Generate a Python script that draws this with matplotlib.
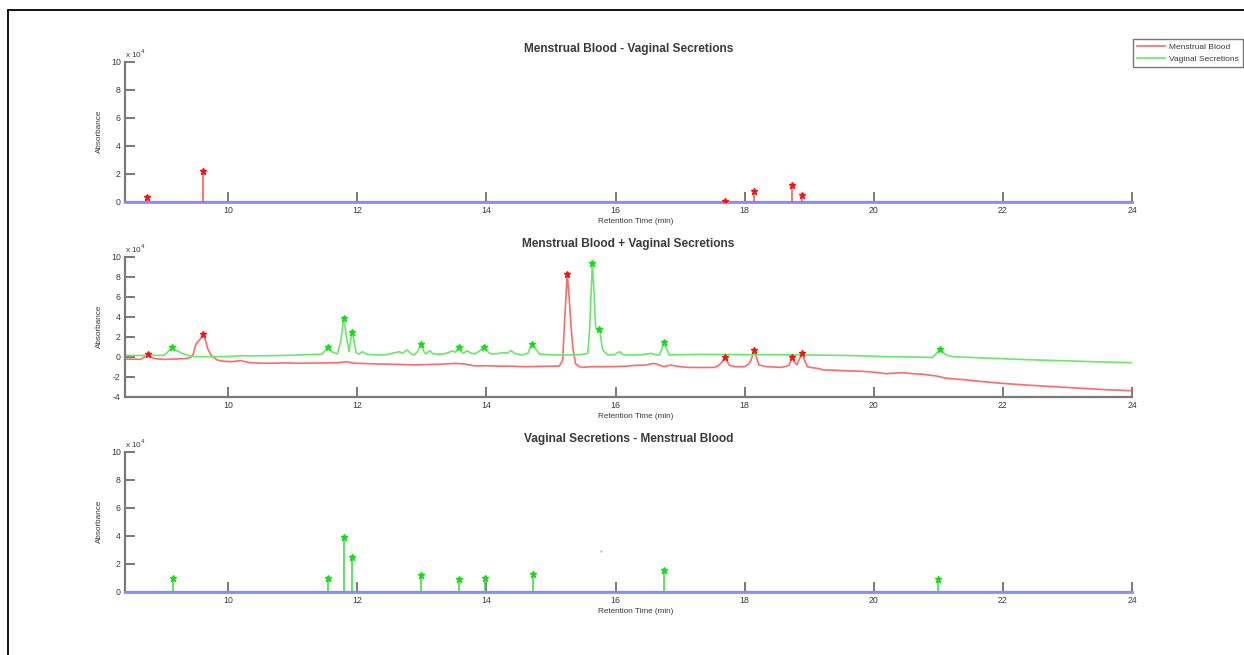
import matplotlib
matplotlib.use("Agg")
import matplotlib.pyplot as plt
from matplotlib.patches import Rectangle

plt.rcParams['font.family'] = ['Liberation Sans', 'DejaVu Sans']
plt.rcParams['axes.unicode_minus'] = False

# ---------------- data (absorbance in units of 1e4) ----------------
mb_time = [8.40, 8.55, 8.64, 8.70, 8.75, 8.80, 8.84, 8.92, 9.00, 9.10, 9.20, 9.30, 9.36, 9.42,
           9.46, 9.49, 9.52, 9.56, 9.61, 9.65, 9.68, 9.72, 9.75, 9.79, 9.83, 9.92, 10.04, 10.12,
           10.19, 10.26, 10.35, 10.50, 10.70, 10.90, 11.10, 11.30, 11.50, 11.70, 11.84, 11.95,
           12.10, 12.28, 12.50, 12.70, 12.90, 13.10, 13.30, 13.52, 13.65, 13.83, 14.00, 14.20,
           14.40, 14.61, 14.80, 15.00, 15.13, 15.18, 15.21, 15.25, 15.28, 15.31, 15.34, 15.38,
           15.44, 15.49, 15.60, 15.80, 16.00, 16.15, 16.24, 16.35, 16.45, 16.55, 16.60, 16.68,
           16.75, 16.86, 16.95, 17.12, 17.35, 17.53, 17.60, 17.64, 17.70, 17.73, 17.77, 17.85,
           17.99, 18.05, 18.09, 18.15, 18.18, 18.22, 18.35, 18.56, 18.65, 18.69, 18.73, 18.77,
           18.81, 18.85, 18.89, 18.93, 18.97, 19.05, 19.13, 19.23, 19.40, 19.60, 19.80, 20.00,
           20.19, 20.30, 20.45, 20.60, 20.75, 20.97, 21.12, 21.40, 21.70, 22.00, 22.40, 22.80,
           23.20, 23.60, 24.00]
mb_abs = [-0.25, -0.25, -0.27, -0.05, 0.27, 0.0, -0.17, -0.22, -0.27, -0.25, -0.22, -0.20, -0.17, -0.05,
          0.30, 1.10, 1.45, 1.70, 2.23, 1.60, 0.83, 0.30, 0.07, -0.15, -0.33, -0.45, -0.50, -0.45,
          -0.38, -0.50, -0.60, -0.65, -0.65, -0.62, -0.66, -0.64, -0.62, -0.60, -0.50, -0.65,
          -0.68, -0.72, -0.75, -0.78, -0.82, -0.78, -0.75, -0.67, -0.72, -0.92, -0.90, -0.95,
          -0.95, -1.00, -0.97, -0.95, -0.93, -0.33, 3.50, 8.27, 6.00, 3.00, 0.80, -0.70,
          -1.00, -1.07, -1.00, -1.00, -0.98, -0.95, -0.90, -0.85, -0.85, -0.72, -0.67, -0.85,
          -1.00, -0.83, -0.95, -1.07, -1.08, -1.07, -0.85, -0.60, 0.00, -0.50, -0.90, -1.00,
          -1.00, -0.80, -0.50, 0.67, 0.00, -0.83, -1.00, -1.07, -0.95, -0.83, -0.07, -0.55,
          -0.80, -0.20, 0.40, -0.40, -1.00, -1.10, -1.17, -1.33, -1.35, -1.42, -1.45, -1.55,
          -1.70, -1.65, -1.60, -1.70, -1.75, -1.93, -2.15, -2.30, -2.50, -2.67, -2.85, -3.00,
          -3.15, -3.30, -3.40]

vs_time = [8.40, 8.70, 9.00, 9.05, 9.13, 9.20, 9.30, 9.42, 9.50, 9.60, 9.80, 10.00, 10.20, 10.40,
           10.60, 10.80, 11.00, 11.20, 11.33, 11.45, 11.50, 11.54, 11.60, 11.69, 11.74, 11.79,
           11.83, 11.87, 11.90, 11.92, 11.95, 11.98, 12.02, 12.08, 12.14, 12.28, 12.45, 12.55,
           12.65, 12.70, 12.77, 12.83, 12.88, 12.93, 12.99, 13.03, 13.06, 13.12, 13.17, 13.21,
           13.30, 13.37, 13.47, 13.52, 13.58, 13.62, 13.64, 13.70, 13.75, 13.81, 13.88, 13.96,
           14.02, 14.07, 14.15, 14.25, 14.32, 14.38, 14.45, 14.56, 14.64, 14.71, 14.76, 14.82,
           14.95, 15.13, 15.30, 15.45, 15.57, 15.60, 15.64, 15.67, 15.69, 15.72, 15.75, 15.78,
           15.80, 15.88, 15.98, 16.06, 16.12, 16.24, 16.40, 16.55, 16.62, 16.68, 16.72, 16.75,
           16.79, 16.83, 17.00, 17.27, 17.60, 18.00, 18.30, 18.80, 19.30, 19.75, 20.19, 20.50,
           20.91, 20.97, 21.03, 21.08, 21.12, 21.22, 21.60, 22.26, 22.80, 23.40, 24.00]
vs_abs = [0.12, 0.12, 0.13, 0.40, 0.94, 0.60, 0.30, 0.07, 0.02, 0.00, 0.00, 0.02, 0.10, 0.08,
          0.10, 0.12, 0.15, 0.20, 0.23, 0.25, 0.60, 0.94, 0.50, 0.27, 1.50, 3.87,
          2.00, 0.50, 1.80, 2.50, 1.50, 0.40, 0.27, 0.50, 0.25, 0.17, 0.20, 0.35,
          0.50, 0.35, 0.67, 0.30, 0.17, 0.50, 1.23, 0.50, 0.27, 0.60, 0.30, 0.27,
          0.25, 0.33, 0.57, 0.45, 0.93, 0.40, 0.33, 0.60, 0.40, 0.27, 0.50, 1.00,
          0.50, 0.27, 0.30, 0.40, 0.35, 0.60, 0.30, 0.17, 0.35, 1.27, 0.80, 0.27,
          0.20, 0.17, 0.17, 0.20, 0.33, 3.00, 9.40, 6.00, 3.00, 2.60, 2.77, 1.50,
          0.67, 0.17, 0.20, 0.50, 0.20, 0.17, 0.20, 0.33, 0.20, 0.17, 0.80, 1.50,
          0.80, 0.17, 0.20, 0.23, 0.22, 0.20, 0.20, 0.18, 0.15, 0.10, 0.00, -0.02,
          -0.07, 0.33, 0.80, 0.40, 0.17, 0.00, -0.10, -0.27, -0.38, -0.50, -0.60]

mb_peak_time = [8.75, 9.61, 15.25, 17.70, 18.15, 18.73, 18.89]
mb_peak_abs = [0.27, 2.23, 8.27, 0.00, 0.67, -0.07, 0.40]
vs_peak_time = [9.13, 11.54, 11.79, 11.92, 12.99, 13.58, 13.96, 14.71, 15.64, 15.75, 16.75, 21.03]
vs_peak_abs = [0.94, 0.94, 3.87, 2.50, 1.23, 0.93, 1.00, 1.27, 9.40, 2.77, 1.50, 0.80]

# difference peaks
mb_minus_vs_time = [8.74, 9.61, 17.69, 18.15, 18.73, 18.89]
mb_minus_vs_val = [0.31, 2.20, 0.05, 0.76, 1.17, 0.48]
vs_minus_mb_time = [9.14, 11.54, 11.79, 11.92, 12.99, 13.57, 13.97, 14.72, 16.75, 21.00]
vs_minus_mb_val = [1.00, 1.00, 3.93, 2.48, 1.19, 0.90, 1.00, 1.26, 1.55, 0.88]
vs_faint_time = [15.77]
vs_faint_val = [2.90]

x_ticks = [10, 12, 14, 16, 18, 20, 22, 24]
titles = ["Menstrual Blood - Vaginal Secretions",
          "Menstrual Blood + Vaginal Secretions",
          "Vaginal Secretions - Menstrual Blood"]
legend_labels = ["Menstrual Blood", "Vaginal Secretions"]

# ---------------- styling ----------------
RED_LINE = '#ff6a6a'
GREEN_LINE = '#6ae86a'
RED_MK = '#ff1010'
GREEN_MK = '#10e010'
BLUE = '#8c8cff'
AXC = '#7a7a7a'
TXT = '#3a3a3a'

W, H = 1244, 655
fig = plt.figure(figsize=(W / 100, H / 100), dpi=100)
fig.patch.set_facecolor('white')

# outer frame (top and left edges visible)
fig.add_artist(Rectangle((8 / W, -0.2), 1.5, 1.2 - 10 / H, transform=fig.transFigure,
                         fill=False, edgecolor='black', linewidth=1.3))

left = 125 / W
width = (1132 - 125) / W
ax_h = 140 / H
tops = [61.7, 256.7, 451.7]
axes = [fig.add_axes([left, 1 - (t + 140) / H, width, ax_h]) for t in tops]


def style(ax, ylim, yticks, title):
    ax.set_xlim(8.4, 24)
    ax.set_ylim(*ylim)
    ax.set_xticks(x_ticks)
    ax.set_yticks(yticks)
    for s in ['top', 'right']:
        ax.spines[s].set_visible(False)
    for s in ['left', 'bottom']:
        ax.spines[s].set_color(AXC)
        ax.spines[s].set_linewidth(1.6)
    ax.tick_params(direction='in', length=7, width=1.4, color=AXC,
                   labelsize=6.3, labelcolor=TXT, pad=3)
    ax.set_title(title, fontsize=8.6, fontweight='bold', color=TXT, pad=7)
    ax.set_xlabel("Retention Time (min)", fontsize=5.9, color=TXT)
    ax.xaxis.set_label_coords(0.507, -0.115)
    ax.set_ylabel("Absorbance", fontsize=5.9, color=TXT, labelpad=6)
    ax.text(0.0, 1.01, r"x 10$^{4}$", transform=ax.transAxes, fontsize=5.9,
            color=TXT, ha='left', va='bottom')
    ax.patch.set_alpha(0)


# top: MB - VS
ax = axes[0]
style(ax, (0, 10), [0, 2, 4, 6, 8, 10], titles[0])
ax.axhline(0, color=BLUE, lw=2.0, zorder=3, clip_on=False)
ax.vlines(mb_minus_vs_time, 0, mb_minus_vs_val, color='#ff5050', lw=1.1, zorder=4)
ax.plot(mb_minus_vs_time, mb_minus_vs_val, ls='none', marker='*', ms=5.0,
        color=RED_MK, mec=RED_MK, zorder=5)

# middle: both traces
ax = axes[1]
style(ax, (-4, 10), [-4, -2, 0, 2, 4, 6, 8, 10], titles[1])
l1, = ax.plot(mb_time, mb_abs, color=RED_LINE, lw=1.2, label=legend_labels[0], zorder=2)
l2, = ax.plot(vs_time, vs_abs, color=GREEN_LINE, lw=1.2, label=legend_labels[1], zorder=2)
ax.plot(mb_peak_time, mb_peak_abs, ls='none', marker='*', ms=5.0, color=RED_MK, zorder=3)
ax.plot(vs_peak_time, vs_peak_abs, ls='none', marker='*', ms=5.0, color=GREEN_MK, zorder=3)

# bottom: VS - MB
ax = axes[2]
style(ax, (0, 10), [0, 2, 4, 6, 8, 10], titles[2])
ax.axhline(0, color=BLUE, lw=2.0, zorder=3, clip_on=False)
ax.vlines(vs_minus_mb_time, 0, vs_minus_mb_val, color='#30e030', lw=1.1, zorder=4)
ax.plot(vs_minus_mb_time, vs_minus_mb_val, ls='none', marker='*', ms=5.0,
        color=GREEN_MK, zorder=5)
ax.plot(vs_faint_time, vs_faint_val, ls='none', marker='.', ms=1.5, color='#a0e0a0')

# legend (figure-level, upper right)
leg = fig.legend([l1, l2], legend_labels, loc='upper left',
                 bbox_to_anchor=(1133 / W, 1 - 39 / H), fontsize=6.0,
                 frameon=True, fancybox=False, borderpad=0.5, labelspacing=0.5,
                 handlelength=3.3, handletextpad=0.5, borderaxespad=0)
leg.get_frame().set_edgecolor('#555555')
leg.get_frame().set_linewidth(1.0)
for t in leg.get_texts():
    t.set_color(TXT)

fig.savefig("out.png", dpi=100)
